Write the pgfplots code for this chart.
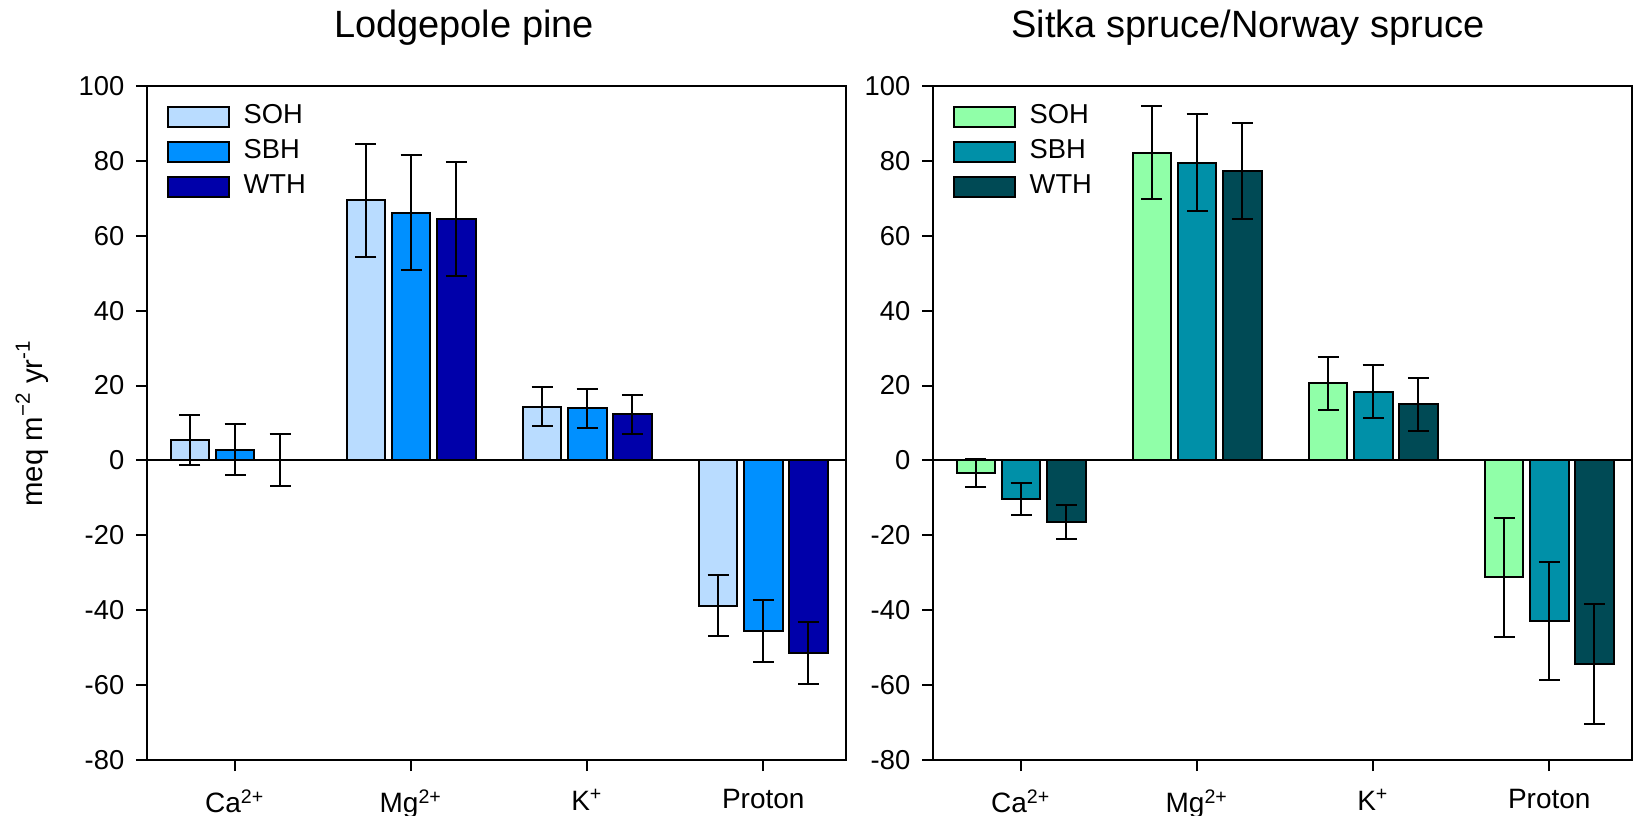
\documentclass[border=0pt]{standalone}
\usepackage{fontspec}
\setmainfont{Liberation Sans}
\usepackage{pgfplots}
\usepackage{pgfplotstable}
\pgfplotsset{compat=1.18}

\definecolor{lpsoh}{HTML}{B9DCFF}
\definecolor{lpsbh}{HTML}{0090FF}
\definecolor{lpwth}{HTML}{0000AA}
\definecolor{sssoh}{HTML}{90FFA8}
\definecolor{sssbh}{HTML}{0090A8}
\definecolor{sswth}{HTML}{004A55}

% x: 1 Ca, 2 Mg, 3 K, 4 Proton; e = +/- error
\pgfplotstableread{
x y e
1 5.5 6.6
2 69.5 15.1
3 14.4 5.3
4 -38.8 8.1
}\LPsoh
\pgfplotstableread{
x y e
1 2.9 6.9
2 66.2 15.4
3 13.9 5.3
4 -45.5 8.3
}\LPsbh
\pgfplotstableread{
x y e
1 0.2 6.95
2 64.4 15.2
3 12.3 5.2
4 -51.4 8.3
}\LPwth
\pgfplotstableread{
x y e
1 -3.3 3.8
2 82.2 12.5
3 20.6 7.05
4 -31.2 15.85
}\SSsoh
\pgfplotstableread{
x y e
1 -10.3 4.3
2 79.5 12.9
3 18.4 7.05
4 -42.9 15.75
}\SSsbh
\pgfplotstableread{
x y e
1 -16.4 4.5
2 77.3 12.75
3 15.0 7.1
4 -54.3 15.95
}\SSwth

\pgfplotsset{
  panel/.style={
    scale only axis, width=209.7pt, height=202.2pt,
    anchor=south west,
    xmin=0.5, xmax=4.47, ymin=-80, ymax=100,
    xtick={1,2,3,4},
    xticklabels={Ca\textsuperscript{2+}, Mg\textsuperscript{2+}, K\textsuperscript{+}, Proton},
    ytick={-80,-60,...,100},
    tick pos=left, tick align=outside, major tick length=3.3pt,
    axis line style={line width=0.6pt},
    every tick/.style={black, line width=0.6pt},
    /pgf/number format/assume math mode=true,
    yticklabel style={font=\fontsize{8.2}{9}\selectfont},
    xticklabel style={font=\fontsize{8.4}{10}\selectfont, yshift=-2pt},
    ybar, bar width=0.22,
    legend image code/.code={\draw[##1,/tikz/.cd,bar shift=0pt] (0pt,-3pt) rectangle (18.3pt,3pt);},
    legend style={draw=none, fill=none, at={(0.0272,0.9733)}, anchor=north west,
      font=\fontsize{8.2}{9}\selectfont, row sep=3.3pt, column sep=4.2pt,
      inner sep=0pt, nodes={inner sep=0pt}},
    legend cell align=left,
    error bars/y dir=both, error bars/y explicit,
    error bars/error mark options={rotate=90, mark size=3.15pt, line width=0.6pt, black},
    error bars/error bar style={line width=0.6pt, black},
  },
  bars/.style={draw=black, line width=0.6pt},
}

\begin{document}
\begin{tikzpicture}
\useasboundingbox (0,0) rectangle (491.4pt,244.5pt);

\begin{axis}[panel, at={(44.1pt,16.5pt)},
    title={Lodgepole pine},
    every axis title/.style={at={(0.4535,1)}, anchor=base, yshift=14.7pt, font=\fontsize{11.4}{13}\selectfont},
    ylabel={meq m\textsuperscript{−2} yr\textsuperscript{-1}},
    ylabel style={at={(axis description cs:-0.1645,0.5)}, anchor=center, font=\fontsize{8.8}{10}\selectfont},
  ]
  \addplot[bars, fill=lpsoh, bar shift=-0.2565] table[x=x, y=y, y error=e] {\LPsoh};
  \addplot[bars, fill=lpsbh, bar shift=0] table[x=x, y=y, y error=e] {\LPsbh};
  \addplot[bars, fill=lpwth, bar shift=0.2565] table[x=x, y=y, y error=e] {\LPwth};
  \legend{SOH, SBH, WTH}
  \draw[line width=0.6pt] (axis cs:0.5,0) -- (axis cs:4.47,0);
\end{axis}

\begin{axis}[panel, at={(279.9pt,16.5pt)},
    title={Sitka spruce/Norway spruce},
    every axis title/.style={at={(0.4506,1)}, anchor=base, yshift=14.7pt, font=\fontsize{11.4}{13}\selectfont},
  ]
  \addplot[bars, fill=sssoh, bar shift=-0.2565] table[x=x, y=y, y error=e] {\SSsoh};
  \addplot[bars, fill=sssbh, bar shift=0] table[x=x, y=y, y error=e] {\SSsbh};
  \addplot[bars, fill=sswth, bar shift=0.2565] table[x=x, y=y, y error=e] {\SSwth};
  \legend{SOH, SBH, WTH}
  \draw[line width=0.6pt] (axis cs:0.5,0) -- (axis cs:4.47,0);
\end{axis}
\end{tikzpicture}
\end{document}
